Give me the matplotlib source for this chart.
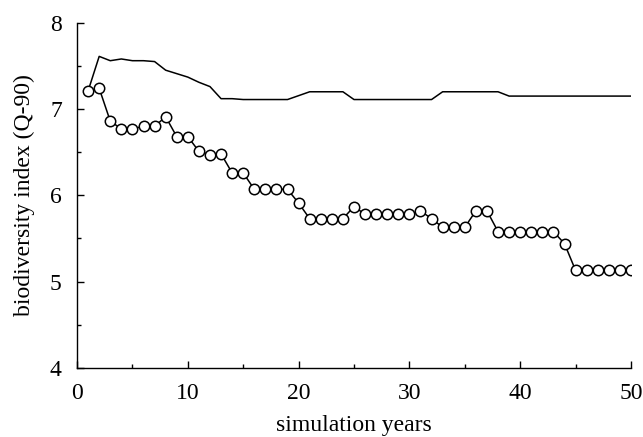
import matplotlib.pyplot as plt
import numpy as np

plt.rcParams["font.family"] = ["Liberation Serif", "DejaVu Serif"]

years = list(range(1, 51))
upper = [7.21, 7.61, 7.56, 7.58, 7.56, 7.56, 7.55, 7.45, 7.41, 7.37,
         7.31, 7.26, 7.12, 7.12, 7.11, 7.11, 7.11, 7.11, 7.11, 7.155,
         7.20, 7.20, 7.20, 7.20, 7.11, 7.11, 7.11, 7.11, 7.11, 7.11,
         7.11, 7.11, 7.20, 7.20, 7.20, 7.20, 7.20, 7.20, 7.15, 7.15,
         7.15, 7.15, 7.15, 7.15, 7.15, 7.15, 7.15, 7.15, 7.15, 7.15]
index_q90 = [7.21, 7.24, 6.86, 6.77, 6.77, 6.80, 6.80, 6.91, 6.68, 6.68,
             6.51, 6.47, 6.48, 6.26, 6.26, 6.07, 6.07, 6.07, 6.07, 5.91,
             5.73, 5.73, 5.73, 5.73, 5.87, 5.78, 5.78, 5.78, 5.78, 5.78,
             5.82, 5.73, 5.63, 5.63, 5.63, 5.82, 5.82, 5.58, 5.58, 5.58,
             5.58, 5.58, 5.58, 5.44, 5.13, 5.13, 5.13, 5.13, 5.13, 5.13]

fig = plt.figure(figsize=(6.43, 4.37), dpi=100)
ax = fig.add_axes([0.1198, 0.158, 0.8615, 0.790])

ax.plot(years, upper, color="black", linewidth=1.1)
ax.plot(years, index_q90, color="black", linewidth=1.1, marker="o",
        markersize=7.5, markerfacecolor="white", markeredgecolor="black",
        markeredgewidth=1.1)

ax.set_xlim(0, 50)
ax.set_ylim(4, 8)
ax.set_xticks(np.arange(0, 51, 10))
ax.set_xticks(np.arange(0, 51, 5), minor=True)
ax.set_yticks([4, 5, 6, 7, 8])
ax.set_yticks(np.arange(4, 8.01, 0.5), minor=True)
ax.tick_params(which="major", direction="in", length=5, width=1, labelsize=17)
ax.tick_params(axis="x", which="major", pad=11)
ax.tick_params(axis="y", which="major", pad=11)
ax.tick_params(which="minor", direction="in", length=3, width=1)

ax.spines["top"].set_visible(False)
ax.spines["right"].set_visible(False)
ax.spines["left"].set_linewidth(1)
ax.spines["bottom"].set_linewidth(1)

ax.set_xlabel("simulation years", fontsize=17, labelpad=8)
ax.set_ylabel("biodiversity index (Q-90)", fontsize=17, labelpad=11)

fig.savefig("out.png", dpi=100)
plt.close(fig)
